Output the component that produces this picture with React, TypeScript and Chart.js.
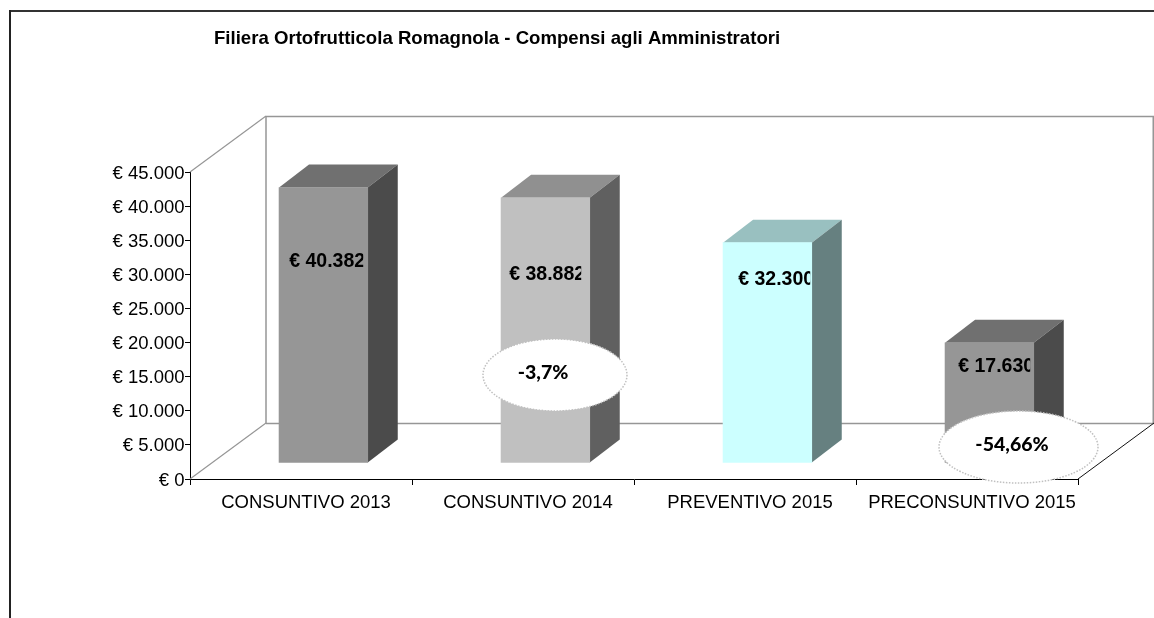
import React, { useEffect, useRef } from "react";
import { Chart, registerables } from "chart.js";

Chart.register(...registerables);

const titleText = "Filiera Ortofrutticola Romagnola - Compensi agli Amministratori";
const categories = ["CONSUNTIVO 2013", "CONSUNTIVO 2014", "PREVENTIVO 2015", "PRECONSUNTIVO 2015"];
const values = [40382, 38882, 32300, 17630];
const frontColors = ["#969696", "#c0c0c0", "#ccffff", "#969696"];
const topColors = ["#707070", "#909090", "#99c0c0", "#707070"];
const sideColors = ["#4b4b4b", "#606060", "#668080", "#4b4b4b"];
const valueLabels = ["€ 40.382", "€ 38.882", "€ 32.300", "€ 17.630"];
const labelDx = [-34.2, -36.2, -29.2, -31.2];
const labelDy = [74, 76.5, 36.5, 23.5];
const labelClipWidth = [74, 72, 72, 72];
const bubbleTexts = ["-3,7%", "-54,66%"];
const bubbleCenters = [[555, 375], [1018.5, 447]];
const bubbleRadii = [[72, 36], [79.5, 36]];
const bubbleTextCenters = [[543, 373], [1012, 445]];

const SANS = '"Liberation Sans", Arial, sans-serif';
const WALL = { dx: 76, dy: -56 };
const BAR_SHIFT = { dx: 22.4, dy: -16 };
const BAR_DEPTH = { dx: 30, dy: -23 };

const formatEuro = (v: number) => "€ " + String(v).replace(/\B(?=(\d{3})+$)/g, ".");

function poly(ctx: CanvasRenderingContext2D, pts: number[][], fill: string) {
  ctx.beginPath();
  pts.forEach((p, i) => (i ? ctx.lineTo(p[0], p[1]) : ctx.moveTo(p[0], p[1])));
  ctx.closePath();
  ctx.fillStyle = fill;
  ctx.fill();
}

function line(ctx: CanvasRenderingContext2D, x1: number, y1: number, x2: number, y2: number, color: string, w = 1) {
  ctx.beginPath();
  ctx.moveTo(x1, y1);
  ctx.lineTo(x2, y2);
  ctx.strokeStyle = color;
  ctx.lineWidth = w;
  ctx.stroke();
}

const scene3d = {
  id: "scene3d",
  afterLayout(chart: any) {
    if (chart.titleBlock) chart.titleBlock.left = 214;
  },
  beforeDatasetsDraw(chart: any) {
    const ctx = chart.ctx as CanvasRenderingContext2D;
    const { left, right, top, bottom } = chart.chartArea;
    ctx.save();
    const wallColor = "#969696";
    const bx = left + WALL.dx;
    const tx = right + WALL.dx;
    const by = bottom + WALL.dy;
    const ty = top + WALL.dy;
    line(ctx, bx, ty + 0.5, bx, by + 0.5, wallColor, 1.5);
    line(ctx, bx, ty + 0.5, tx, ty + 0.5, wallColor, 1.5);
    line(ctx, tx - 0.5, ty, tx - 0.5, by, wallColor, 2);
    line(ctx, bx, by + 0.5, tx, by + 0.5, wallColor, 1.5);
    line(ctx, left, top, bx, ty, wallColor, 1.2);
    line(ctx, left, bottom, bx, by, wallColor, 1.2);
    line(ctx, right, bottom, tx, by, "#111111");

    ctx.translate(BAR_SHIFT.dx, BAR_SHIFT.dy);
    chart.getDatasetMeta(0).data.forEach((bar: any, i: number) => {
      const l = bar.x - bar.width / 2;
      const r = bar.x + bar.width / 2;
      const t = bar.y;
      const b = bar.base;
      const { dx, dy } = BAR_DEPTH;
      poly(ctx, [[l, t], [r, t], [r + dx, t + dy], [l + dx, t + dy]], topColors[i]);
      poly(ctx, [[r, t], [r + dx, t + dy], [r + dx, b + dy], [r, b]], sideColors[i]);
    });
  },
  afterDatasetsDraw(chart: any) {
    const ctx = chart.ctx as CanvasRenderingContext2D;
    ctx.restore();

    ctx.save();
    ctx.fillStyle = "#000000";
    ctx.textBaseline = "middle";
    ctx.textAlign = "left";
    ctx.font = `bold 19.5px ${SANS}`;
    chart.getDatasetMeta(0).data.forEach((bar: any, i: number) => {
      const x = bar.x + BAR_SHIFT.dx + labelDx[i];
      const y = bar.y + BAR_SHIFT.dy + labelDy[i];
      ctx.save();
      ctx.beginPath();
      ctx.rect(x - 2, y - 15, labelClipWidth[i] + 2, 30);
      ctx.clip();
      ctx.fillText(valueLabels[i], x, y);
      ctx.restore();
    });

    bubbleTexts.forEach((text, i) => {
      ctx.beginPath();
      ctx.ellipse(bubbleCenters[i][0], bubbleCenters[i][1], bubbleRadii[i][0], bubbleRadii[i][1], 0, 0, Math.PI * 2);
      ctx.fillStyle = "#ffffff";
      ctx.fill();
      ctx.setLineDash([1.5, 1.5]);
      ctx.strokeStyle = "#c0c0c0";
      ctx.lineWidth = 1.5;
      ctx.stroke();
      ctx.setLineDash([]);
      ctx.fillStyle = "#000000";
      ctx.textAlign = "center";
      ctx.font = `900 19.5px Lato, ${SANS}`;
      ctx.fillText(text, bubbleTextCenters[i][0], bubbleTextCenters[i][1]);
    });
    ctx.restore();
  },
  afterDraw(chart: any) {
    const ctx = chart.ctx as CanvasRenderingContext2D;
    ctx.save();
    line(ctx, 9, 11, chart.width, 11, "#333333", 2);
    line(ctx, 10, 10, 10, chart.height, "#222222", 2);
    ctx.restore();
  },
};

export default function App() {
  const ref = useRef<HTMLCanvasElement | null>(null);
  useEffect(() => {
    if (!ref.current) return;
    const chart = new Chart(ref.current, {
      type: "bar",
      plugins: [scene3d],
      data: {
        labels: categories,
        datasets: [
          {
            data: values,
            backgroundColor: frontColors,
            borderWidth: 0,
            barThickness: 88.7,
            clip: false,
          } as any,
        ],
      },
      options: {
        responsive: false,
        animation: false,
        layout: { padding: { left: 0, right: 76, top: 0, bottom: 0 } },
        plugins: {
          legend: { display: false },
          tooltip: { enabled: false },
          title: {
            display: true,
            text: titleText,
            align: "start",
            color: "#000000",
            font: { family: SANS, size: 18.6, weight: "bold", lineHeight: 1.2 },
            padding: { top: 28, bottom: 121.68 },
          },
        },
        scales: {
          x: {
            offset: true,
            afterFit: (s: any) => { s.height = 139; },
            grid: { display: true, drawOnChartArea: false, drawTicks: true, tickLength: 6, color: "#000000", offset: true },
            border: { color: "#000000", width: 1 },
            ticks: {
              color: "#000000",
              font: { family: SANS, size: 18.5 },
              padding: 7,
              labelOffset: 5,
              autoSkip: false,
              maxRotation: 0,
            },
          },
          y: {
            min: 0,
            max: 45000,
            afterFit: (s: any) => { s.width = 190; },
            grid: { display: true, drawOnChartArea: false, drawTicks: true, tickLength: 5, color: "#000000" },
            border: { color: "#000000", width: 1 },
            ticks: {
              stepSize: 5000,
              color: "#000000",
              font: { family: SANS, size: 18.5 },
              padding: 0.5,
              labelOffset: 1.5,
              callback: (v: any) => formatEuro(Number(v)),
            },
          },
        },
      },
    } as any);
    return () => chart.destroy();
  }, []);
  return (
    <div style={{ position: "absolute", left: 0, top: 0, width: 1154, height: 618, background: "#ffffff" }}>
      <canvas ref={ref} width={1154} height={618} style={{ display: "block" }} />
    </div>
  );
}
